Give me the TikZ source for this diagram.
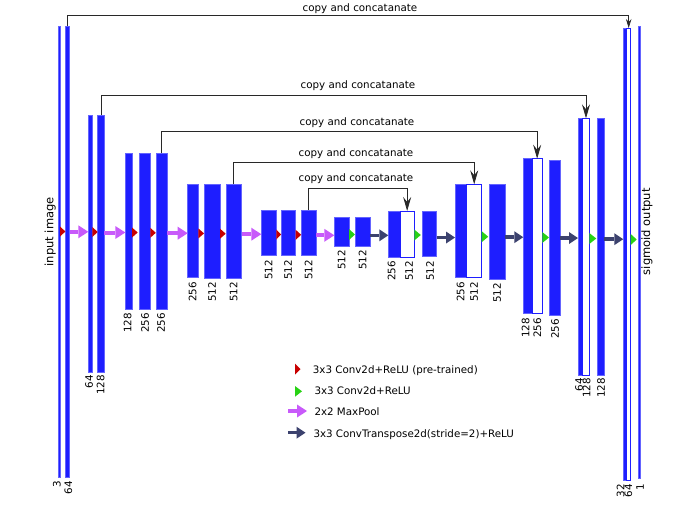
\documentclass[tikz,border=0pt]{standalone}
\usepackage{fontspec}
\setmainfont{DejaVu Sans}
\usetikzlibrary{arrows.meta,calc}
\definecolor{barblue}{RGB}{30,30,255}
\definecolor{baredge}{RGB}{100,100,255}
\definecolor{convred}{RGB}{200,0,0}
\definecolor{convgreen}{RGB}{40,210,20}
\definecolor{poolpurple}{RGB}{200,90,250}
\definecolor{upnavy}{RGB}{60,66,110}
\definecolor{copygray}{RGB}{40,40,40}
\newcommand\mkbar[6]{%
  \pgfmathsetmacro\myBarW{#3-#2}%
  \pgfmathsetmacro\myBarH{#5-#4}%
  \node[#6, minimum width=\myBarW pt, minimum height=\myBarH pt] (#1) at ({(#2+#3)/2},{(#4+#5)/2}) {};%
}
% style, left node, y, width, half height
\newcommand\convtri[5]{%
  \fill[#1] (#2.east |- 0,#3) ++(0,-#5) -- ++(#4,#5) -- ++(-#4,#5) -- cycle;%
}
\begin{document}
\begin{tikzpicture}[x=1pt,y=-1pt,
  fbar/.style={draw=baredge, fill=barblue, line width=0.6pt, inner sep=0pt, outer sep=0pt},
  wbar/.style={draw=barblue, fill=white, line width=1pt, inner sep=0pt, outer sep=0pt},
  numlab/.style={rotate=90, anchor=east, inner sep=0pt, font=\fontsize{10.3}{12}\selectfont},
  copylab/.style={anchor=base, inner sep=0pt, font=\fontsize{10.3}{12}\selectfont},
  sidelab/.style={rotate=90, anchor=base, inner sep=0pt, font=\fontsize{11.5}{13}\selectfont},
  leglab/.style={anchor=base west, inner sep=0pt, font=\fontsize{10.3}{12}\selectfont},
  copyline/.style={draw=copygray, line width=0.8pt, -{Stealth[length=14pt,width=8pt,inset=5pt]}},
  copylinesmall/.style={draw=copygray, line width=0.8pt, -{Stealth[length=9pt,width=5.5pt,inset=3pt]}},
  poolarrow/.style={draw=poolpurple, line width=4pt, -{Triangle[length=10pt,width=13pt,line width=0pt]}},
  uparrow/.style={draw=upnavy, line width=3.5pt, -{Triangle[length=9pt,width=12pt,line width=0pt]}},
  redtri/.style={fill=convred},
  greentri/.style={fill=convgreen}]
\useasboundingbox (0,0) rectangle (675,531);

% ---------------- bars ----------------
\mkbar{E1a}{58}{60}{26}{477}{fbar}
\mkbar{E1b}{65.3}{69.7}{26}{477}{fbar}
\mkbar{E2a}{88.3}{92.3}{115}{372}{fbar}
\mkbar{E2b}{97.7}{104.3}{115}{372}{fbar}
\mkbar{E3a}{125.3}{132}{153}{309}{fbar}
\mkbar{E3b}{139.3}{150.3}{153}{309}{fbar}
\mkbar{E3c}{156.3}{167}{153}{309}{fbar}
\mkbar{E4a}{187.7}{198.3}{184}{277.7}{fbar}
\mkbar{E4b}{204.3}{220}{184}{278}{fbar}
\mkbar{E4c}{226}{241.7}{184}{278}{fbar}
\mkbar{E5a}{261.3}{276.3}{210}{255.7}{fbar}
\mkbar{E5b}{281}{295.7}{210}{255.7}{fbar}
\mkbar{E5c}{301.3}{316.3}{210}{255.7}{fbar}
\mkbar{B1}{334.3}{349}{217.7}{246}{fbar}
\mkbar{B2}{355}{370}{217.7}{246}{fbar}
\mkbar{D5a}{388.3}{400}{211}{257.3}{fbar}
\mkbar{D5w}{400}{414.3}{211}{257.3}{wbar}
\mkbar{D5b}{422.3}{436.7}{211.7}{256.7}{fbar}
\mkbar{D4a}{455}{466.7}{184.3}{277.7}{fbar}
\mkbar{D4w}{466.7}{481.7}{184.3}{277.7}{wbar}
\mkbar{D4b}{489}{505}{184.3}{279}{fbar}
\mkbar{D3a}{523.3}{532}{158.7}{313.7}{fbar}
\mkbar{D3w}{532}{542.3}{158.7}{313.7}{wbar}
\mkbar{D3b}{549.3}{560}{160}{315}{fbar}
\mkbar{D2a}{578}{582.7}{118.3}{375}{fbar}
\mkbar{D2w}{582.7}{589.3}{118.3}{375}{wbar}
\mkbar{D2b}{597.3}{604}{118.3}{375}{fbar}
\mkbar{D1a}{623.3}{626.7}{28}{480}{fbar}
\mkbar{D1w}{626.7}{630.7}{28}{480}{wbar}
\mkbar{D1b}{638.7}{640}{26}{478}{fbar}

% ---------------- channel labels ----------------
\node[numlab] (nE1a) at (57,481) {3};
\node[numlab] (nE1b) at (68.3,481) {64};
\node[numlab] (nE2a) at (89,375) {64};
\node[numlab] (nE2b) at (100.7,375) {128};
\node[numlab] (nE3a) at (127.5,313) {128};
\node[numlab] (nE3b) at (145,313) {256};
\node[numlab] (nE3c) at (161,313) {256};
\node[numlab] (nE4a) at (192.5,282) {256};
\node[numlab] (nE4b) at (212,282) {512};
\node[numlab] (nE4c) at (233.5,282) {512};
\node[numlab] (nE5a) at (268.5,260) {512};
\node[numlab] (nE5b) at (288,260) {512};
\node[numlab] (nE5c) at (308.5,260) {512};
\node[numlab] (nB1) at (341.7,250) {512};
\node[numlab] (nB2) at (362.5,250) {512};
\node[numlab] (nD5a) at (391.7,261) {256};
\node[numlab] (nD5w) at (409,261) {512};
\node[numlab] (nD5b) at (430,261) {512};
\node[numlab] (nD4a) at (460.7,282) {256};
\node[numlab] (nD4w) at (474.2,282) {512};
\node[numlab] (nD4b) at (497,283) {512};
\node[numlab] (nD3a) at (525.7,318) {128};
\node[numlab] (nD3w) at (537.3,318) {256};
\node[numlab] (nD3b) at (555,319) {256};
\node[numlab] (nD2a) at (579,378) {64};
\node[numlab] (nD2w) at (586.7,378) {128};
\node[numlab] (nD2b) at (601,378) {128};
\node[numlab] (nD1a) at (620.7,484) {32};
\node[numlab] (nD1w) at (628.3,484) {64};
\node[numlab] (nD1b) at (640,484) {1};

% ---------------- side labels ----------------
\node[sidelab] (inlab) at (53.3,231.7) {input image};
\node[sidelab] (outlab) at (650,231.7) {sigmoid output};

% ---------------- copy and concatenate ----------------
\draw[copylinesmall] (E1b.north) -- ++(0,-10.3) -| (D1w.north);
\draw[copyline] (E2b.north) -- ++(0,-20) -| (D2w.north);
\draw[copyline] (E3c.north) -- ++(0,-21.3) -| (D3w.north);
\draw[copyline] (E4c.north) -- ++(0,-21.3) -| (D4w.north);
\draw[copyline] (E5c.north) -- ++(0,-22) -| (D5w.north);
\node[copylab] (cc1) at (360,11) {copy and concatanate};
\node[copylab] (cc2) at (358,88.5) {copy and concatanate};
\node[copylab] (cc3) at (357,125) {copy and concatanate};
\node[copylab] (cc4) at (356,156) {copy and concatanate};
\node[copylab] (cc5) at (356,181) {copy and concatanate};

% ---------------- operations ----------------
\convtri{redtri}{E1a}{231.5}{5.4}{5}
\convtri{redtri}{E2a}{232}{5.4}{5}
\convtri{redtri}{E3a}{232.5}{5.7}{5}
\convtri{redtri}{E3b}{232.8}{5.5}{5}
\convtri{redtri}{E4a}{233.4}{5.7}{5}
\convtri{redtri}{E4b}{233.7}{5.7}{5}
\convtri{redtri}{E5a}{234.5}{4.7}{5}
\convtri{redtri}{E5b}{234.8}{5.5}{5}
\convtri{greentri}{B1}{234.5}{6}{5.5}
\convtri{greentri}{D5w}{235}{6.5}{5.5}
\convtri{greentri}{D4w}{236.7}{6.5}{5.5}
\convtri{greentri}{D3w}{237.5}{6.7}{5.5}
\convtri{greentri}{D2w}{238.5}{7}{5.5}
\convtri{greentri}{D1w}{239.5}{6}{5.5}

\draw[poolarrow] (E1b.east |- 0,231.8) -- (E2a.west |- 0,231.8);
\draw[poolarrow] (E2b.east |- 0,232.5) -- (E3a.west |- 0,232.5);
\draw[poolarrow] (E3c.east |- 0,233.2) -- (E4a.west |- 0,233.2);
\draw[poolarrow] (E4c.east |- 0,234.2) -- (E5a.west |- 0,234.2);
\draw[poolarrow] (E5c.east |- 0,235.3) -- (B1.west |- 0,235.3);

\draw[uparrow] (B2.east |- 0,235.3) -- (D5a.west |- 0,235.3);
\draw[uparrow] (D5b.east |- 0,237.5) -- (D4a.west |- 0,237.5);
\draw[uparrow] (D4b.east |- 0,237.2) -- (D3a.west |- 0,237.2);
\draw[uparrow] (D3b.east |- 0,238) -- (D2a.west |- 0,238);
\draw[uparrow] (D2b.east |- 0,239.2) -- (D1a.west |- 0,239.2);

% ---------------- legend ----------------
\fill[redtri] (295,363.5) -- (300.5,369) -- (295,374.5) -- cycle;
\node[leglab] (lg1) at (312.7,373.3) {3x3 Conv2d+ReLU (pre-trained)};
\fill[greentri] (295,386) -- (302,391.3) -- (295,396.7) -- cycle;
\node[leglab] (lg2) at (314.3,394.5) {3x3 Conv2d+ReLU};
\coordinate (lp1) at (288,411);
\coordinate (lp2) at (307,411);
\draw[poolarrow] (lp1) -- (lp2);
\node[leglab] (lg3) at (314.3,415) {2x2 MaxPool};
\coordinate (lu1) at (288,432.7);
\coordinate (lu2) at (305.5,432.7);
\draw[uparrow] (lu1) -- (lu2);
\node[leglab] (lg4) at (313.3,437) {3x3 ConvTranspose2d(stride=2)+ReLU};
\end{tikzpicture}
\end{document}
